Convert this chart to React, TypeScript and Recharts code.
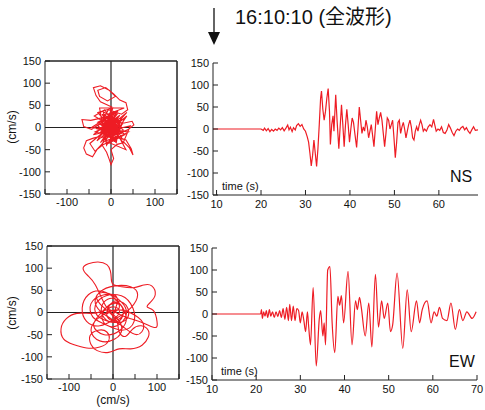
import { LineChart, Line, XAxis, YAxis, ReferenceLine } from "recharts";

const RED = "#ee1c24";
const AX = "#222";
const FONT = "'Liberation Sans', Arial, Helvetica, 'Noto Sans CJK JP', sans-serif";
const tickStyle = { fontSize: 11, fill: "#111", fontFamily: FONT };

// [time (s), velocity (cm/s)]
const nsWave: [number, number][] = [
  [9.2, 0], [20, 0], [20.5, -3], [20.8, 2], [21.2, -4], [21.6, 1], [22, -6], [22.4, -1], [22.8, -5],
  [23.2, 0], [23.6, -3], [24, 2], [24.4, -2], [24.8, 3], [25.2, -4], [25.6, 2], [26, 9], [26.3, -2],
  [26.6, 4], [27, -6], [27.3, 3], [27.7, -2], [28, 8], [28.4, 12], [28.8, 6], [29.2, 10], [29.6, 0],
  [30, -5], [30.4, -18], [30.7, -30], [31, -55], [31.3, -84], [31.6, -60], [31.9, -25], [32.2, -55],
  [32.5, -85], [32.8, -45], [33.1, 10], [33.4, 70], [33.6, 86], [33.9, 45], [34.2, 20], [34.5, 40],
  [34.8, 70], [35.1, 92], [35.4, 40], [35.6, -35], [35.9, 10], [36.2, 30], [36.4, -5], [36.8, 78],
  [37.1, 20], [37.5, -45], [37.8, 5], [38.1, 55], [38.4, 10], [38.7, -40], [39, 10], [39.3, 45],
  [39.6, 10], [39.9, -30], [40.2, 0], [40.5, 25], [40.8, 15], [41.1, -10], [41.5, -42], [41.8, 0],
  [42.1, 50], [42.4, 20], [42.7, -10], [43, 5], [43.3, -5], [43.6, 20], [43.9, 5], [44.2, -20],
  [44.5, -5], [44.8, 10], [45.1, -15], [45.4, -40], [45.7, 0], [46, 40], [46.3, 10], [46.6, 25],
  [46.9, 38], [47.2, 20], [47.5, -10], [47.8, -40], [48.1, -10], [48.4, 25], [48.7, 20], [49, 0],
  [49.3, 10], [49.6, 20], [49.9, -20], [50.2, -65], [50.5, -30], [50.8, 15], [51.1, 20], [51.4, -10],
  [51.7, 5], [52, 15], [52.3, 0], [52.6, -20], [52.9, -5], [53.2, 10], [53.5, 20], [53.8, 5],
  [54.1, -20], [54.4, -25], [54.7, -5], [55, 5], [55.3, -5], [55.6, 10], [55.9, 20], [56.2, 10],
  [56.5, -5], [56.8, 0], [57.2, -5], [57.6, 5], [58, 10], [58.4, 5], [58.8, 22], [59.1, 8],
  [59.4, -5], [59.8, 0], [60.2, -3], [60.6, 5], [61, -8], [61.4, -10], [61.8, -3], [62.2, 10],
  [62.6, 2], [63, -8], [63.4, -15], [63.8, -5], [64.2, 0], [64.6, -3], [65, 3], [65.4, 6], [65.8, -2],
  [66.2, 3], [66.6, -5], [67, -10], [67.4, -2], [67.8, 5], [68.2, -3], [68.8, -2],
];

const ewWave: [number, number][] = [
  [10, 0], [21, 0], [21.2, 10], [21.4, -10], [21.7, 5], [22, -5], [22.3, 8], [22.6, -8], [23, 10],
  [23.3, -5], [23.7, 5], [24.1, -8], [24.5, 5], [24.9, -6], [25.3, 8], [25.7, -8], [26.1, 12],
  [26.5, -12], [26.9, 15], [27.3, -15], [27.6, 22], [28, -15], [28.4, 18], [28.8, -15], [29.2, 12],
  [29.6, 8], [30, -20], [30.4, 5], [30.8, -15], [31.2, -40], [31.6, 5], [31.9, -30], [32.3, -70],
  [32.9, 60], [33.6, -118], [34.3, -10], [34.6, 8], [35.1, -50], [35.4, -20], [35.7, -70], [36.2, 100],
  [36.7, 108], [37.2, -20], [37.8, -88], [38.5, 40], [38.9, 20], [39.3, 42], [39.8, -20], [40.8, 97],
  [41.7, -70], [42.5, 30], [42.9, 10], [43.4, 38], [43.8, 15], [44.7, -50], [45.5, 25], [46.2, -75],
  [47, 90], [47.7, -30], [48.4, 30], [49, -10], [49.8, 25], [50.4, -40], [50.9, -25], [51.9, 93],
  [53.2, -78], [54.2, 55], [55.1, -40], [56.3, 30], [57, -20], [57.6, 10], [58.7, 30], [59.6, -20],
  [60.3, 5], [60.9, -5], [61.5, 15], [62.2, -10], [63.2, -15], [64.1, 25], [65.1, -35], [66, 10],
  [66.8, -15], [67.7, 5], [68.9, -10], [69.8, 5],
];

// particle orbit [horizontal, vertical] in cm/s
const orbitTop: [number, number][] = [
  [0, 0], [6, 12], [-10, -8], [14, -16], [-4, 22], [-18, -4], [20, 10], [-8, -24], [4, 28], [-22, 14],
  [18, -20], [-12, -30], [10, 18], [-26, -12], [24, 4], [-2, -18], [-16, 30], [28, -6], [-20, -22], [8, 36],
  [-30, 4], [12, -34], [22, 22], [-14, -2], [2, 46], [-24, 58], [-34, 72], [-40, 90], [-24, 94], [-4, 84],
  [10, 70], [-8, 60], [-26, 70], [-30, 84], [-12, 90], [6, 76], [20, 62], [34, 56], [38, 40], [24, 30],
  [-6, 40], [-18, 18], [10, 8], [-20, -14], [14, 30], [-28, 20], [-46, 16], [-66, 18], [-62, 2], [-44, -4],
  [-26, 8], [6, -12], [-10, 24], [22, -2], [-16, -28], [12, 12], [30, 10], [48, 14], [52, 6], [40, -4],
  [16, -16], [-8, 4], [-24, -20], [-40, -24], [-56, -30], [-62, -46], [-56, -60], [-42, -66], [-32, -50],
  [-20, -40], [-10, -56], [-4, -72], [0, -84], [6, -70], [0, -50], [14, -38], [30, -34], [42, -46],
  [50, -62], [46, -48], [34, -28], [10, -20], [-14, 10], [20, 16], [-22, -6], [4, -26], [-6, 28], [24, -14],
  [-30, 12], [12, 34], [-12, -18], [26, 8], [-18, 36], [-4, -10], [16, 22], [-26, -2], [8, -32], [-10, 16],
  [20, -6], [-14, -22], [2, 20], [12, -10], [-18, 8], [6, -4], [-6, 14], [14, 4], [-10, -12], [4, 8],
  [-20, 30], [10, -30], [30, 20], [-36, -10], [26, -26], [-14, 40], [-38, 26], [32, -16], [-6, -36],
  [36, 26], [-32, -30], [16, 38], [-44, 0], [40, -10], [-20, -40], [4, 44], [-30, 34], [28, -34], [44, 4],
  [-40, -16], [20, 28], [-24, -34], [36, 34], [-48, -36], [-36, -54], [-14, -30], [34, -50], [20, -24],
  [-8, 30], [30, 44], [-26, 44], [-10, -40], [18, 6], [-34, -2], [10, -16], [-4, 12], [0, -2],
];

const orbitBottom: [number, number][] = [
  [0, 0], [14, 10], [8, 28], [-12, 30], [-26, 12], [-20, -12], [4, -22], [22, -8], [18, 16], [-4, 20],
  [-30, -4], [-44, -30], [-20, -50], [16, -40], [30, -10], [10, 26], [-24, 48], [-56, 40], [-70, 10],
  [-60, -20], [-30, -30], [6, -14], [40, 10], [56, 40], [40, 58], [4, 60], [-30, 46], [-40, 20], [-20, -4],
  [20, -30], [54, -50], [70, -30], [50, -6], [10, 6], [-30, -10], [-50, -40], [-30, -64], [4, -60],
  [20, -36], [6, -10], [-16, 14], [-40, 62], [-58, 84], [-68, 100], [-56, 110], [-34, 114], [-14, 108],
  [-6, 94], [-4, 78], [0, 64], [20, 58], [46, 56], [70, 62], [88, 60], [96, 40], [84, 22], [78, 12], [92, 4],
  [100, -20], [96, -34], [70, -24], [40, -14], [14, -4], [-8, 6], [-26, 2], [-50, -2], [-82, -2],
  [-106, -14], [-118, -36], [-112, -60], [-90, -72], [-60, -80], [-30, -78], [-10, -64], [-14, -44],
  [-34, -40], [-52, -52], [-50, -72], [-36, -86], [-10, -90], [14, -82], [40, -82], [66, -74], [80, -56],
  [80, -40], [64, -30], [44, -38], [28, -54], [14, -44], [10, -24], [-6, -2], [-30, 20], [-36, 40],
  [-14, 44], [12, 30], [30, 6], [22, -20], [-4, -32], [-24, -16], [-16, 10], [10, 20], [24, 4], [12, -16],
  [-10, -14], [-12, 6], [6, 12], [14, -2], [0, -10], [10, 30], [-20, 40], [-50, 20], [-46, -10],
  [-20, -26], [20, -40], [48, -20], [40, 20], [10, 40], [-30, 30], [-40, 0], [-10, -20], [30, -16],
  [30, 16], [0, 24], [-14, 0], [-6, 2], [2, 4],
];

const velTicks = [-150, -100, -50, 0, 50, 100, 150];
const nsTimeTicks = [10, 20, 30, 40, 50, 60];
const ewTimeTicks = [10, 20, 30, 40, 50, 60, 70];

type Rect = { x: number; y: number; w: number; h: number };

const ML = 45, MT = 25, MR = 10, MB = 30;

function frame(r: Rect, extraTop = 0, extraRight = 0) {
  return {
    style: { position: "absolute" as const, left: r.x - ML, top: r.y - MT },
    width: r.w + ML + MR,
    height: r.h + MT + MB,
    margin: { top: MT - extraTop, right: MR - extraRight, left: ML - 30, bottom: MB - 20 },
  };
}

function Orbit({ rect, pts, curve }: { rect: Rect; pts: [number, number][]; curve: "linear" | "natural" }) {
  const f = frame(rect, 1, 1);
  const rows = pts.map(([x, y]) => ({ x, y }));
  return (
    <div style={f.style}>
      <LineChart width={f.width} height={f.height} data={rows} margin={f.margin}>
        <XAxis xAxisId="b" type="number" dataKey="x" domain={[-150, 150]} ticks={velTicks} allowDataOverflow
          height={20} stroke={AX} tick={tickStyle} tickSize={-5} tickMargin={9}
          tickFormatter={(v: number) => (v % 100 === 0 ? String(v) : "")} />
        <XAxis xAxisId="t" orientation="top" type="number" dataKey="x" domain={[-150, 150]} ticks={velTicks}
          allowDataOverflow height={1} stroke={AX} tick={false} tickSize={-5} />
        <YAxis yAxisId="l" type="number" domain={[-150, 150]} ticks={velTicks} allowDataOverflow width={30}
          stroke={AX} tick={tickStyle} tickSize={-5} tickMargin={9} />
        <YAxis yAxisId="r" orientation="right" type="number" domain={[-150, 150]} ticks={velTicks}
          allowDataOverflow width={1} stroke={AX} tick={false} tickSize={-5} />
        <ReferenceLine xAxisId="b" yAxisId="l" x={0} stroke={AX} strokeWidth={1.2} />
        <ReferenceLine xAxisId="b" yAxisId="l" y={0} stroke={AX} strokeWidth={1.2} />
        <ReferenceLine xAxisId="b" yAxisId="l" x={150} stroke={AX} />
        <ReferenceLine xAxisId="b" yAxisId="l" y={150} stroke={AX} />
        <Line xAxisId="t" yAxisId="r" dataKey="y" stroke="none" dot={false} isAnimationActive={false} />
        <Line xAxisId="b" yAxisId="l" dataKey="y" type={curve} stroke={RED} strokeWidth={1.1}
          dot={false} isAnimationActive={false} />
      </LineChart>
    </div>
  );
}

function Wave({ rect, pts, domain, ticks, curve }: {
  rect: Rect; pts: [number, number][]; domain: [number, number]; ticks: number[]; curve: "linear" | "monotone";
}) {
  const f = frame(rect);
  const rows = pts.map(([t, v]) => ({ t, v }));
  return (
    <div style={f.style}>
      <LineChart width={f.width} height={f.height} data={rows} margin={f.margin}>
        <XAxis type="number" dataKey="t" domain={domain} ticks={ticks} allowDataOverflow height={20}
          stroke={AX} tick={tickStyle} tickSize={-5} tickMargin={10} />
        <YAxis type="number" domain={[-150, 150]} ticks={velTicks} allowDataOverflow width={30}
          stroke={AX} tick={tickStyle} tickSize={-5} tickMargin={9} />
        <Line dataKey="v" type={curve} stroke={RED} strokeWidth={1.2} dot={false} isAnimationActive={false} />
      </LineChart>
    </div>
  );
}

export default function App() {
  return (
    <div style={{ position: "absolute", left: 0, top: 0, width: 485, height: 410, background: "#fff", overflow: "hidden" }}>
      <Orbit rect={{ x: 45, y: 61, w: 132, h: 133 }} pts={orbitTop} curve="linear" />
      <Wave rect={{ x: 213, y: 63, w: 265, h: 132 }} pts={nsWave} domain={[9.2, 68.8]} ticks={nsTimeTicks} curve="linear" />
      <Orbit rect={{ x: 47, y: 246, w: 132, h: 133 }} pts={orbitBottom} curve="natural" />
      <Wave rect={{ x: 212, y: 248, w: 265, h: 132 }} pts={ewWave} domain={[10, 70]} ticks={ewTimeTicks} curve="monotone" />
      <svg width={485} height={410} style={{ position: "absolute", left: 0, top: 0, pointerEvents: "none" }}
        fontFamily={FONT}>
        <line x1={214} y1={8} x2={214} y2={33} stroke="#111" strokeWidth={1.3} />
        <polygon points="208,32 220,32 214,45" fill="#111" />
        <text x={235} y={24} fontSize={20} fill="#111">16:10:10 (全波形)</text>
        <text transform="translate(16,127) rotate(-90)" textAnchor="middle" fontSize={12} fill="#111">(cm/s)</text>
        <text transform="translate(16,313) rotate(-90)" textAnchor="middle" fontSize={12} fill="#111">(cm/s)</text>
        <text x={113} y={404} textAnchor="middle" fontSize={12} fill="#111">(cm/s)</text>
        <text x={222} y={190} fontSize={11} fill="#111">time (s)</text>
        <text x={221} y={375} fontSize={11} fill="#111">time (s)</text>
        <text x={450} y={182} fontSize={16} fill="#111">NS</text>
        <text x={449} y={367} fontSize={16} fill="#111">EW</text>
      </svg>
    </div>
  );
}
